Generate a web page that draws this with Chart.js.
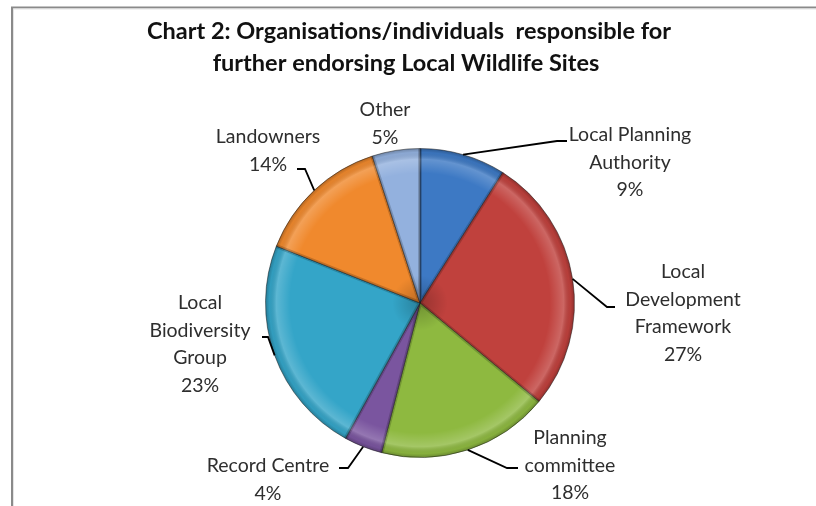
<!DOCTYPE html>
<html>
<head>
<meta charset="utf-8">
<script src="https://cdn.jsdelivr.net/npm/chart.js@4.4.1/dist/chart.umd.min.js"></script>
<style>
  html, body { margin: 0; padding: 0; background: #fff; }
  #wrap { width: 816px; height: 506px; position: relative; }
</style>
</head>
<body>
<div id="wrap"><canvas id="pie" width="816" height="506"></canvas></div>
<script>
const categories = [
  ['Local Planning', 'Authority'],
  ['Local', 'Development', 'Framework'],
  ['Planning', 'committee'],
  ['Record Centre'],
  ['Local', 'Biodiversity', 'Group'],
  ['Landowners'],
  ['Other']
];
const shares = [9, 27, 18, 4, 23, 14, 5];
const sliceColours = ['#3d79c4', '#c0413d', '#8eb940', '#7a559f', '#34a5c8', '#f0892d', '#93b1de'];

// where each label sits, and the elbow of its leader line (null = no leader)
const labelLayout = [
  { x: 630, y: 135, elbow: [557, 141], end: [567, 141] },
  { x: 683, y: 272, elbow: [607, 307], end: [615, 307] },
  { x: 570, y: 438, elbow: [507, 468], end: [518, 468] },
  { x: 268, y: 466, elbow: [348, 468], end: [339, 468] },
  { x: 200, y: 303, elbow: [268, 337], end: [262, 337] },
  { x: 268, y: 137, elbow: [305, 169], end: [297, 169] },
  { x: 385, y: 110, elbow: null, end: null }
];

const FONT = 'Lato, "Open Sans", sans-serif';

// bevel look: darker hub, bright band just inside the rim, dark outer edge
const bevel = {
  id: 'bevel',
  afterDatasetsDraw(chart) {
    const c = chart.ctx;
    chart.getDatasetMeta(0).data.forEach(arc => {
      const { x, y, startAngle, endAngle, outerRadius: r } = arc;
      c.save();
      c.beginPath();
      c.moveTo(x, y);
      c.arc(x, y, r, startAngle, endAngle);
      c.closePath();
      c.clip();
      const g = c.createRadialGradient(x, y, 0, x, y, r);
      g.addColorStop(0, 'rgba(0,0,0,0.22)');
      g.addColorStop(0.18, 'rgba(0,0,0,0)');
      g.addColorStop(0.84, 'rgba(255,255,255,0)');
      g.addColorStop(0.93, 'rgba(255,255,255,0.2)');
      g.addColorStop(0.975, 'rgba(0,0,0,0.05)');
      g.addColorStop(1, 'rgba(0,0,0,0.25)');
      c.fillStyle = g;
      c.fillRect(x - r, y - r, 2 * r, 2 * r);
      // soft darker seam along both straight edges
      c.strokeStyle = 'rgba(0,0,0,0.18)';
      c.lineWidth = 4;
      c.beginPath();
      c.moveTo(x + Math.cos(startAngle) * r, y + Math.sin(startAngle) * r);
      c.lineTo(x, y);
      c.lineTo(x + Math.cos(endAngle) * r, y + Math.sin(endAngle) * r);
      c.stroke();
      c.restore();
    });
  }
};

const frameAndText = {
  id: 'frameAndText',
  beforeDraw(chart) {
    const c = chart.ctx;
    c.save();
    c.fillStyle = '#fff';
    c.fillRect(0, 0, chart.width, chart.height);
    c.strokeStyle = '#8a8a8a';
    c.lineWidth = 2;
    c.beginPath();
    c.moveTo(12, chart.height);
    c.lineTo(12, 7.5);
    c.lineTo(chart.width, 7.5);
    c.stroke();
    c.strokeStyle = '#e4e4e4';
    c.lineWidth = 1;
    c.beginPath();
    c.moveTo(13.5, chart.height);
    c.lineTo(13.5, 9);
    c.lineTo(chart.width, 9);
    c.stroke();
    c.restore();
  },
  afterDraw(chart) {
    const c = chart.ctx;
    c.save();
    c.fillStyle = '#111';
    c.textAlign = 'center';
    c.textBaseline = 'middle';
    c.font = `bold 23.5px ${FONT}`;
    c.fillText('Chart 2: Organisations/individuals  responsible for', 409, 31);
    c.fillText('further endorsing Local Wildlife Sites', 406, 63);

    const meta = chart.getDatasetMeta(0);
    c.font = `19.5px ${FONT}`;
    meta.data.forEach((arc, i) => {
      const lay = labelLayout[i];
      const lines = categories[i].concat([shares[i] + '%']);
      c.fillStyle = '#2e2e2e';
      lines.forEach((t, k) => c.fillText(t, lay.x, lay.y + k * 27.5));
      if (!lay.elbow) return;
      const mid = (arc.startAngle + arc.endAngle) / 2;
      const px = arc.x + Math.cos(mid) * arc.outerRadius;
      const py = arc.y + Math.sin(mid) * arc.outerRadius;
      c.strokeStyle = '#000';
      c.lineWidth = 1.8;
      c.beginPath();
      c.moveTo(px, py);
      c.lineTo(lay.elbow[0], lay.elbow[1]);
      c.lineTo(lay.end[0], lay.end[1]);
      c.stroke();
    });
    c.restore();
  }
};

new Chart(document.getElementById('pie'), {
  type: 'pie',
  data: {
    labels: categories.map(l => l.join(' ')),
    datasets: [{
      data: shares,
      backgroundColor: sliceColours,
      borderColor: 'rgba(30, 30, 30, 0.5)',
      borderWidth: 1
    }]
  },
  options: {
    responsive: false,
    animation: false,
    events: [],
    layout: { padding: { top: 148, bottom: 48, left: 265, right: 241 } },
    plugins: {
      legend: { display: false },
      tooltip: { enabled: false },
      title: { display: false }
    }
  },
  plugins: [bevel, frameAndText]
});
</script>
</body>
</html>
